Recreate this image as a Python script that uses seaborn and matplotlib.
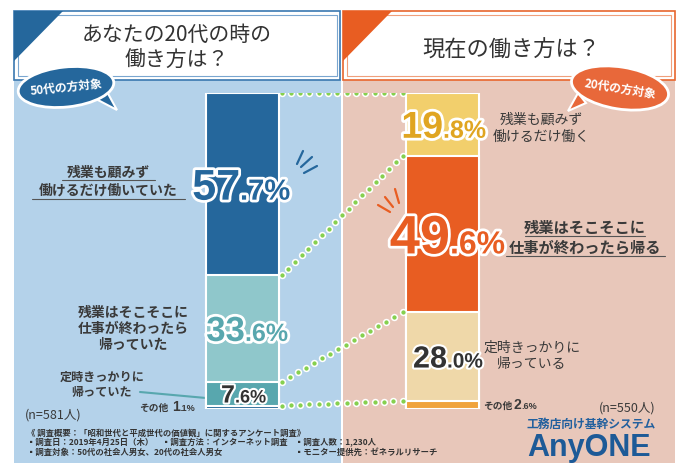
import matplotlib
matplotlib.use("Agg")
import matplotlib.pyplot as plt
from matplotlib import patches, patheffects, font_manager
import numpy as np
import pandas as pd
import seaborn as sns

groups = ["50代", "20代"]
answers_50 = ["残業も顧みず\n働けるだけ働いていた", "残業はそこそこに\n仕事が終わったら\n帰っていた",
              "定時きっかりに\n帰っていた", "その他"]
answers_20 = ["残業も顧みず\n働けるだけ働く", "残業はそこそこに\n仕事が終わったら帰る",
              "定時きっかりに\n帰っている", "その他"]
share_50 = [57.7, 33.6, 7.6, 1.1]
share_20 = [19.8, 49.6, 28.0, 2.6]
n_50 = 581
n_20 = 550

colors_50 = ["#25679c", "#8fc7cb", "#58a7ae", "#2a6b9a"]
colors_20 = ["#f2cf6c", "#e85d22", "#efd8a9", "#f0a33c"]

sns.set_theme(style="white")
plt.rcParams["font.family"] = ["Noto Sans CJK JP", "DejaVu Sans"]

names = {f.name for f in font_manager.fontManager.ttflist}
has_narrow = "Liberation Sans Narrow" in names
narrow = "Liberation Sans Narrow" if has_narrow else "Liberation Sans"
num_font = ["Liberation Sans", "DejaVu Sans"]
dark = "#3a3a3a"
blue_bg = "#b4d2ea"
pink_bg = "#e8c7ba"

fig = plt.figure(figsize=(6.79, 4.64), dpi=100)

# decoration layer in pixel coordinates
deco = fig.add_axes([0, 0, 1, 1])
deco.set_xlim(0, 679)
deco.set_ylim(464, 0)
deco.axis("off")

deco.add_patch(patches.Rectangle((14, 80), 327, 390, color=blue_bg, lw=0))
deco.add_patch(patches.Rectangle((343, 80), 332, 390, color=pink_bg, lw=0))

# title boxes
deco.add_patch(patches.Rectangle((14, 12), 326, 69, fc="white", ec="#3a78b0", lw=1.2))
deco.add_patch(patches.Rectangle((18, 16), 319, 61, fc="none", ec="#7aa6d0", lw=0.8))
deco.add_patch(patches.Polygon([(14, 12), (63, 12), (14, 62)], color="#25679c", lw=0))
deco.add_patch(patches.Rectangle((343, 12), 332, 69, fc="white", ec="#e8662e", lw=1.2))
deco.add_patch(patches.Rectangle((347, 16), 324, 61, fc="none", ec="#f0a07c", lw=0.8))
deco.add_patch(patches.Polygon([(343, 12), (392, 12), (343, 62)], color="#e85d22", lw=0))

deco.text(177, 48, "あなたの20代の時の\n働き方は？", ha="center", va="center",
          fontsize=15, color="#333333", linespacing=1.25)
deco.text(511, 50, "現在の働き方は？", ha="center", va="center", fontsize=16, color="#333333")

# speech bubbles
deco.add_patch(patches.Polygon([(96, 100), (117, 111), (106, 91)], fc="#25679c", ec="white", lw=1.5))
deco.add_patch(patches.Ellipse((66, 88), 96, 40, angle=-6, fc="#25679c", ec="white", lw=2))
deco.text(66, 88, "50代の方対象", ha="center", va="center", fontsize=8.5, color="white",
          fontweight="bold", rotation=6)
deco.add_patch(patches.Polygon([(586, 104), (568, 112), (578, 94)], fc="#e8683a", ec="white", lw=1.5))
deco.add_patch(patches.Ellipse((620, 89), 98, 42, angle=9, fc="#e8683a", ec="white", lw=2))
deco.text(620, 89, "20代の方対象", ha="center", va="center", fontsize=8.5, color="white",
          fontweight="bold", rotation=-9)

# answer labels
deco.text(108, 182, answers_50[0], ha="center", va="center", fontsize=10, color=dark,
          fontweight="bold", linespacing=1.35)
deco.plot([62, 155], [181, 181], color="#555555", lw=0.8)
deco.plot([32, 185], [200, 200], color="#555555", lw=0.8)
deco.text(133, 329, answers_50[1], ha="center", va="center", fontsize=10, color=dark,
          fontweight="bold", linespacing=1.2)
deco.text(102, 385, answers_50[2], ha="center", va="center", fontsize=8.7, color=dark,
          fontweight="bold", linespacing=1.25)
deco.plot([140, 206], [393, 399], color="#58a7ae", lw=1.5)
deco.text(25, 415, f"(n={n_50}人)", ha="left", va="center", fontsize=9, color=dark)

deco.text(541, 128, answers_20[0], ha="center", va="center", fontsize=10, color=dark,
          linespacing=1.3)
deco.text(585, 238, answers_20[1], ha="center", va="center", fontsize=11, color=dark,
          fontweight="bold", linespacing=1.25)
deco.plot([525, 645], [237, 237], color="#555555", lw=0.8)
deco.plot([506, 665], [257, 257], color="#555555", lw=0.8)
deco.text(532, 356, answers_20[2], ha="center", va="center", fontsize=10, color=dark,
          linespacing=1.2)
deco.text(655, 408, f"(n={n_20}人)", ha="right", va="center", fontsize=9, color=dark)

# emphasis strokes
for (x0, y0, x1, y1) in [(297, 165, 303, 152), (301, 168, 312, 158), (304, 174, 317, 167)]:
    deco.plot([x0, x1], [y0, y1], color="#25679c", lw=1.6, solid_capstyle="round")
for (x0, y0, x1, y1) in [(378, 206, 390, 213), (385, 198, 393, 208), (395, 190, 399, 204)]:
    deco.plot([x0, x1], [y0, y1], color="#e85d22", lw=1.6, solid_capstyle="round")

# footer
foot = dict(ha="left", va="center", fontsize=6, color="#333333", fontweight="bold")
deco.text(27, 433, "《 調査概要：「昭和世代と平成世代の価値観」に関するアンケート調査》", **foot)
deco.text(27, 442, "▪調査日：2019年4月25日（木）", **foot)
deco.text(162, 442, "▪調査方法：インターネット調査", **foot)
deco.text(295, 442, "▪調査人数：1,230人", **foot)
deco.text(27, 452, "▪調査対象：50代の社会人男女、20代の社会人男女", **foot)
deco.text(295, 452, "▪モニター提供先：ゼネラルリサーチ", **foot)

deco.text(591, 424, "工務店向け基幹システム", ha="center", va="center", fontsize=8.5,
          color="#22609e", fontweight="bold")
deco.text(589, 456, "AnyONE", ha="center", va="baseline", fontsize=27 if has_narrow else 22,
          color="#1d5a97", fontweight="bold", family=[narrow, "DejaVu Sans"])

# stacked bars
ax = fig.add_axes([0, 54 / 464, 1, 316 / 464], zorder=2)
ax.patch.set_alpha(0)
w = 0.365
cum_50 = [sum(share_50[i:]) for i in range(len(share_50))]
cum_20 = [sum(share_20[i:]) for i in range(len(share_20))]
for i in range(len(share_50)):
    layer = pd.DataFrame({"世代": groups, "累積": [cum_50[i], cum_20[i]]})
    sns.barplot(data=layer, x="世代", y="累積", hue="世代", order=groups, hue_order=groups,
                palette={groups[0]: colors_50[i], groups[1]: colors_20[i]}, saturation=1,
                width=w, edgecolor="white", linewidth=1.5, errorbar=None, legend=False, ax=ax)
ax.set_xlim(-1.21, 2.185)
ax.set_ylim(0, 100)
ax.axis("off")

# dotted connectors between matching boundaries
for a, b in zip(cum_50, cum_20):
    x0, x1 = w / 2 + 0.015, 1 - w / 2 - 0.015
    p0 = ax.transData.transform((x0, a))
    p1 = ax.transData.transform((x1, b))
    n = int(round(np.hypot(*(p1 - p0)) / 9.3)) + 1
    ax.plot(np.linspace(x0, x1, n), np.linspace(a, b, n), ls="none", marker="o", ms=4.2,
            mfc="#86d04f", mec="white", mew=1.1, zorder=3)


def pct_label(x, y, value, big, small, color, dx, family, stroke="white", sw=4):
    head, tail = f"{value:.1f}%".split(".")
    pe = [patheffects.withStroke(linewidth=sw, foreground=stroke)]
    dy = -big * 0.36
    ax.annotate(head, (x, y), xytext=(dx * 0.72, dy), textcoords="offset points", ha="right",
                va="baseline", fontsize=big, color=color, fontweight="bold", family=family,
                path_effects=pe, zorder=5)
    ax.annotate("." + tail, (x, y), xytext=(dx * 0.72, dy), textcoords="offset points", ha="left",
                va="baseline", fontsize=small, color=color, fontweight="bold", family=family,
                path_effects=pe, zorder=5)


mid_50 = [c - s / 2 for c, s in zip(cum_50, share_50)]
mid_20 = [c - s / 2 for c, s in zip(cum_20, share_20)]
big_fam = [narrow, "DejaVu Sans"]
pct_label(0, mid_50[0], share_50[0], 39 if has_narrow else 31, 28 if has_narrow else 21,
          "#25679c", -2, big_fam)
pct_label(0, mid_50[1], share_50[1], 25, 18, "#58a7ae", 3, num_font)
pct_label(0, mid_50[2], share_50[2], 18, 13, "#333333", -7, num_font, sw=3)
pct_label(1, mid_20[0], share_20[0], 27, 18, "#e0a521", 1, num_font)
pct_label(1, mid_20[1], share_20[1], 39, 23, "#e85d22", 8, num_font)
pct_label(1, mid_20[2], share_20[2], 22, 15, "#333333", 5, num_font, sw=3)


# small "other" labels
def other_label(x, y, value, side):
    head, tail = f"{value:.1f}%".split(".")
    if side == "left":
        offs = [(-37, "right"), (-33, "left"), (-26, "left")]
    else:
        offs = [(5, "left"), (35, "left"), (43, "left")]
    for (o, ha), txt, fs, fam in zip(offs, [answers_50[3], head, "." + tail], [7, 10, 6.5],
                                     [None, num_font, num_font]):
        kw = dict(family=fam) if fam else {}
        ax.annotate(txt, (x, y), xytext=(o * 0.72, -3 * 0.72), textcoords="offset points", ha=ha,
                    va="baseline", fontsize=fs, color=dark, fontweight="bold", **kw)


other_label(-w / 2, mid_50[3], share_50[3], "left")
other_label(1 + w / 2, mid_20[3], share_20[3], "right")

fig.savefig("out.png", dpi=100)
